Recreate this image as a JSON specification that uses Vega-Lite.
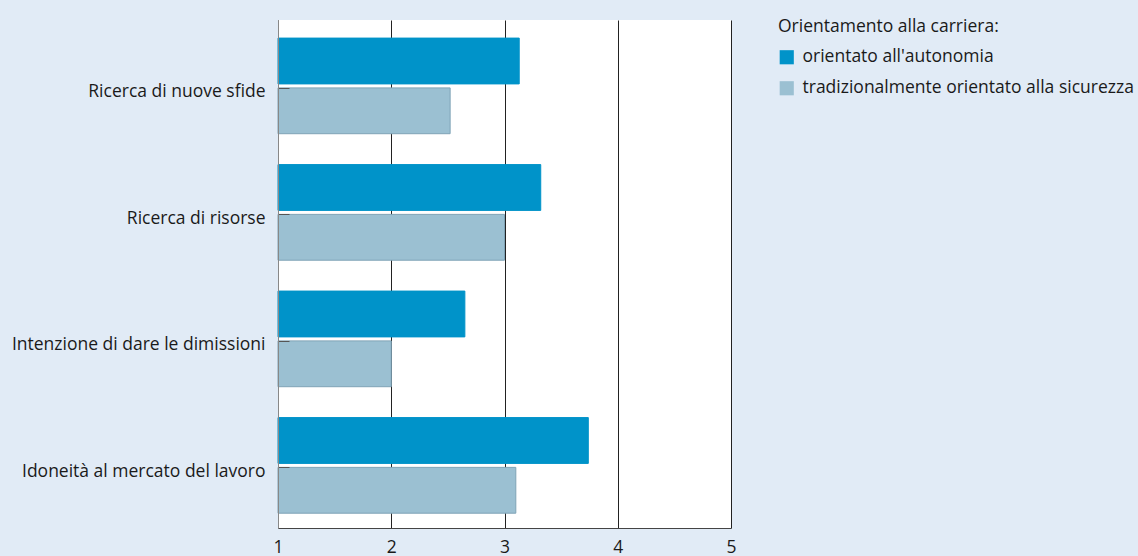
{
  "$schema": "https://vega.github.io/schema/vega-lite/v6.json",
  "width": 453,
  "height": 508,
  "autosize": "none",
  "padding": {"left": 278, "top": 20, "right": 407, "bottom": 28},
  "background": "#e1ebf6",
  "config": {
    "view": {"fill": "white", "stroke": null},
    "font": "Open Sans",
    "axis": {"labelFont": "Open Sans", "labelColor": "#1a1a1a"}
  },
  "data": {
    "values": [
      {"categoria": "Ricerca di nuove sfide", "orientamento": "orientato all'autonomia", "valore": 3.13},
      {"categoria": "Ricerca di nuove sfide", "orientamento": "tradizionalmente orientato alla sicurezza", "valore": 2.52},
      {"categoria": "Ricerca di risorse", "orientamento": "orientato all'autonomia", "valore": 3.32},
      {"categoria": "Ricerca di risorse", "orientamento": "tradizionalmente orientato alla sicurezza", "valore": 3.0},
      {"categoria": "Intenzione di dare le dimissioni", "orientamento": "orientato all'autonomia", "valore": 2.65},
      {"categoria": "Intenzione di dare le dimissioni", "orientamento": "tradizionalmente orientato alla sicurezza", "valore": 2.0},
      {"categoria": "Idoneità al mercato del lavoro", "orientamento": "orientato all'autonomia", "valore": 3.74},
      {"categoria": "Idoneità al mercato del lavoro", "orientamento": "tradizionalmente orientato alla sicurezza", "valore": 3.1}
    ]
  },
  "mark": {"type": "bar"},
  "encoding": {
    "y": {
      "field": "categoria",
      "type": "nominal",
      "sort": null,
      "scale": {"paddingInner": 0.244, "paddingOuter": 0.13, "align": 0.55},
      "axis": {
        "title": null,
        "labelFontSize": 17.5,
        "labelPadding": 24,
        "labelOffset": 4,
        "tickSize": -11,
        "tickColor": "#555555",
        "tickOffset": 2,
        "domainColor": "#888888",
        "labelLimit": 300,
        "zindex": 1
      }
    },
    "yOffset": {
      "field": "orientamento",
      "type": "nominal",
      "sort": ["orientato all'autonomia", "tradizionalmente orientato alla sicurezza"],
      "scale": {"paddingInner": 0.08}
    },
    "x": {
      "field": "valore",
      "type": "quantitative",
      "scale": {"domain": [1, 5], "zero": false, "nice": false},
      "axis": {
        "title": null,
        "values": [1, 2, 3, 4, 5],
        "grid": true,
        "gridColor": "#222222",
        "gridOpacity": 1,
        "gridWidth": 1,
        "ticks": false,
        "domainColor": "#444444",
        "labelFontSize": 17.5,
        "labelPadding": 10,
        "labelFlush": false
      }
    },
    "x2": {"datum": 1},
    "color": {
      "field": "orientamento",
      "type": "nominal",
      "sort": ["orientato all'autonomia", "tradizionalmente orientato alla sicurezza"],
      "scale": {
        "domain": ["orientato all'autonomia", "tradizionalmente orientato alla sicurezza"],
        "range": ["#0093c9", "#9bc0d2"]
      },
      "legend": {
        "title": "Orientamento alla carriera:",
        "orient": "none",
        "legendX": 500,
        "legendY": -2,
        "titleFontSize": 17.5,
        "titleFontWeight": "normal",
        "titleColor": "#1a1a1a",
        "titleLimit": 400,
        "titlePadding": 13,
        "labelFontSize": 17.5,
        "labelColor": "#1a1a1a",
        "symbolType": "square",
        "symbolSize": 200,
        "symbolStrokeWidth": 0,
        "rowPadding": 12,
        "labelOffset": 7,
        "labelLimit": 400
      }
    },
    "stroke": {
      "field": "orientamento",
      "type": "nominal",
      "scale": {
        "domain": ["orientato all'autonomia", "tradizionalmente orientato alla sicurezza"],
        "range": ["#0093c9", "#7fa3b6"]
      },
      "legend": null
    }
  }
}
